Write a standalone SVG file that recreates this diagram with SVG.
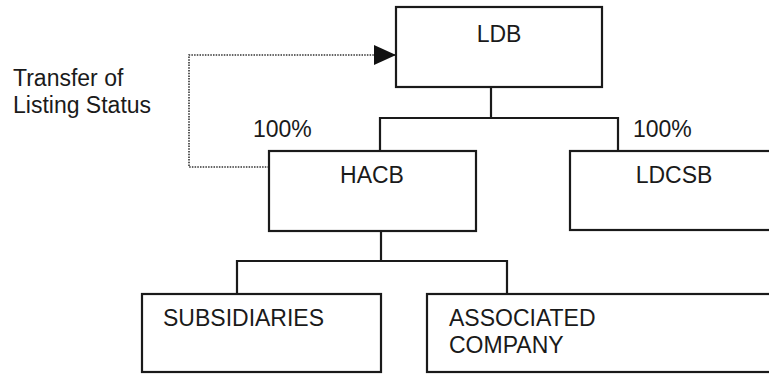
<svg xmlns="http://www.w3.org/2000/svg" width="769" height="374" viewBox="0 0 769 374">
<style>
.box{fill:#fff;stroke:#1a1a1a;stroke-width:2.2}
.ln{fill:none;stroke:#1a1a1a;stroke-width:2.2}
.dot{fill:none;stroke:#333;stroke-width:1.6;stroke-dasharray:1.5 1.2}
text{font-family:"Liberation Sans",Arial,Helvetica,sans-serif;font-size:23px;fill:#1a1a1a}
</style>
<defs>
<marker id="arr" markerWidth="22" markerHeight="20" refX="22" refY="10" orient="auto" markerUnits="userSpaceOnUse">
<path d="M0,0 L22,10 L0,20 Z" fill="#111"/>
</marker>
</defs>
<rect width="769" height="374" fill="#fff"/>
<g id="connectors">
<polyline class="ln" points="491,87 491,118"/>
<polyline class="ln" points="380,151 380,118 618,118 618,151"/>
<polyline class="ln" points="381,231 381,261"/>
<polyline class="ln" points="237,294 237,261 507,261 507,294"/>
<polyline class="dot" points="269,167 189,167 189,55 396,55" marker-end="url(#arr)"/>
</g>
<g id="label-transfer">
<text x="13" y="86">Transfer of</text>
<text x="13" y="113">Listing Status</text>
</g>
<g id="label-100-left"><text x="253" y="137">100%</text></g>
<g id="label-100-right"><text x="633" y="137">100%</text></g>
<g id="LDB">
<rect class="box" x="396" y="7" width="206" height="80"/>
<text x="499" y="42" text-anchor="middle">LDB</text>
</g>
<g id="HACB">
<rect class="box" x="269" y="151" width="207" height="80"/>
<text x="372" y="183" text-anchor="middle">HACB</text>
</g>
<g id="LDCSB">
<rect class="box" x="570" y="151" width="210" height="79"/>
<text x="674" y="183" text-anchor="middle">LDCSB</text>
</g>
<g id="SUBSIDIARIES">
<rect class="box" x="142" y="294" width="239" height="78"/>
<text x="163" y="326">SUBSIDIARIES</text>
</g>
<g id="ASSOCIATED">
<rect class="box" x="427" y="294" width="350" height="78"/>
<text x="449" y="326">ASSOCIATED</text>
<text x="449" y="353">COMPANY</text>
</g>
</svg>
